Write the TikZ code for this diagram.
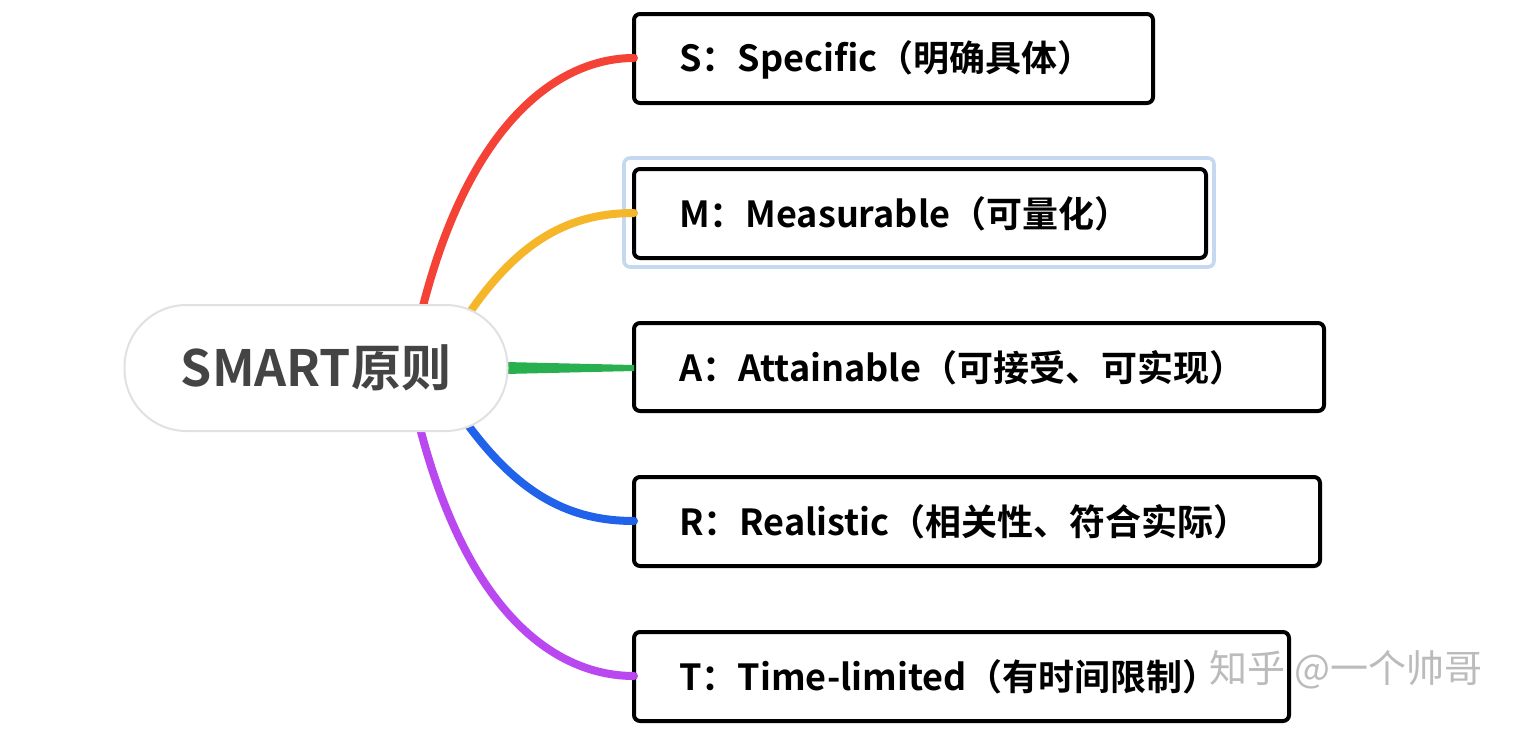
\documentclass[tikz,border=0pt]{standalone}
\usepackage{fontspec}
\setmainfont{Noto Sans CJK SC}[BoldFont={* Bold}]
\begin{document}
\begin{tikzpicture}[x=0.5pt,y=-0.5pt,
 box/.style={draw=black,line width=2pt,rounded corners=3pt},
 lbl/.style={anchor=west,font=\fontsize{18}{21}\selectfont\bfseries,text=black},
 br/.style={line width=4pt,line cap=round}]
\useasboundingbox (0,0) rectangle (1516,734);
\fill[white] (0,0) rectangle (1516,734);
\draw[draw={rgb,255:red,196;green,216;blue,240},line width=1.8pt,rounded corners=3pt] (624,158) rectangle (1214,267);
\draw[box] (634,14) rectangle (1153,103);
\draw[box] (634,169) rectangle (1206,258);
\draw[box] (634,323) rectangle (1324,411);
\draw[box] (634,477) rectangle (1320,566);
\draw[box] (634,632) rectangle (1289,721);
\coordinate (s) at (634,58);
\coordinate (m) at (634,213);
\coordinate (a) at (634,368);
\coordinate (r) at (634,521);
\coordinate (t) at (634,676);
\node[lbl] (ls) at (672,60) {S：Specific（明确具体）};
\node[lbl] (lm) at (672,214) {M：Measurable（可量化）};
\node[lbl] (la) at (672,368) {A：Attainable（可接受、可实现）};
\node[lbl] (lr) at (672,522) {R：Realistic（相关性、符合实际）};
\node[lbl] (lt) at (672,677) {T：Time-limited（有时间限制）};
\coordinate (r1) at (422,310);
\coordinate (r2) at (470,312);
\coordinate (r4) at (468,425);
\coordinate (r5) at (420,428);
\draw[br,color={rgb,255:red,244;green,67;blue,54}] (r1) .. controls (470,120) and (560,58) .. (s);
\draw[br,color={rgb,255:red,246;green,182;blue,42}] (r2) .. controls (520,240) and (570,213) .. (m);
\fill[color={rgb,255:red,40;green,176;blue,80}] (505,362) -- (634,365) -- (634,371) -- (505,374) -- cycle;
\draw[br,color={rgb,255:red,33;green,98;blue,234}] (r4) .. controls (520,495) and (570,521) .. (r);
\draw[br,color={rgb,255:red,186;green,72;blue,240}] (r5) .. controls (470,620) and (560,676) .. (t);
\node[draw={rgb,255:red,225;green,225;blue,225},line width=1pt,fill=white,rounded corners=31pt,minimum width=191.5pt,minimum height=63pt,inner sep=0pt,font=\fontsize{25}{28}\selectfont\bfseries,text={rgb,255:red,68;green,68;blue,68}] (root) at (316,368) {SMART原则};
\node[font=\fontsize{19}{22}\selectfont,text={rgb,255:red,170;green,170;blue,170},opacity=0.8] (wm) at (1346,670) {知乎 @一个帅哥};
\end{tikzpicture}
\end{document}
